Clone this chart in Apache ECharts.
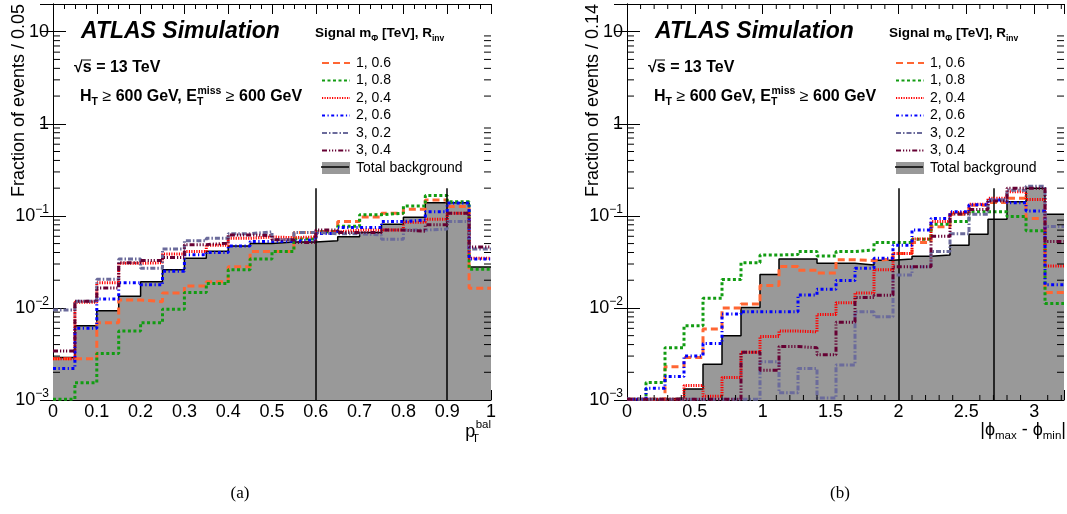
<!DOCTYPE html>
<html><head><meta charset="utf-8">
<script src="https://cdn.jsdelivr.net/npm/echarts@6/dist/echarts.min.js"></script>
<style>html,body{margin:0;padding:0;background:#fff}#c{width:1067px;height:514px}</style>
</head><body><div id="c"></div>
<script>
// ---------- data ----------
const edgesA = [0,0.05,0.1,0.15,0.2,0.25,0.3,0.35,0.4,0.45,0.5,0.55,0.6,0.65,0.7,0.75,0.8,0.85,0.9,0.95,1];
const edgesB = [0,0.14,0.28,0.42,0.56,0.70,0.84,0.98,1.12,1.26,1.40,1.54,1.68,1.82,1.96,2.10,2.24,2.38,2.52,2.66,2.80,2.94,3.08,3.22];

const names = ['1, 0.6','1, 0.8','2, 0.4','2, 0.6','3, 0.2','3, 0.4'];
const bgName = 'Total background';

// panel (a): p_T^bal
const bgA     = [0.0029,0.0064,0.0093,0.0134,0.0193,0.026,0.0347,0.0413,0.047,0.050,0.052,0.052,0.0535,0.0593,0.066,0.0813,0.0968,0.139,0.139,0.0279];
const orangeA = [0.0028,0.0028,0.0069,0.0122,0.0117,0.0145,0.0173,0.0193,0.028,0.041,0.041,0.066,0.068,0.087,0.097,0.107,0.118,0.149,0.126,0.0164];
const greenA  = [0.00102,0.00154,0.0032,0.0056,0.0069,0.0097,0.0147,0.0184,0.026,0.034,0.041,0.056,0.067,0.077,0.103,0.107,0.128,0.166,0.142,0.0263];
const redA    = [0.0028,0.0115,0.0188,0.0305,0.031,0.0385,0.041,0.048,0.057,0.059,0.058,0.059,0.067,0.070,0.070,0.070,0.085,0.092,0.107,0.0347];
const blueA   = [0.0022,0.006,0.0125,0.0188,0.0178,0.025,0.0378,0.040,0.047,0.0527,0.053,0.055,0.0644,0.0748,0.0748,0.0866,0.09,0.111,0.138,0.034];
const slateA  = [0.0095,0.0118,0.0205,0.034,0.027,0.0437,0.0536,0.057,0.064,0.067,0.055,0.066,0.064,0.064,0.062,0.0557,0.07,0.072,0.0866,0.0437];
const maroonA = [0.0034,0.0118,0.0165,0.031,0.0327,0.0353,0.0487,0.0505,0.062,0.061,0.055,0.0515,0.070,0.066,0.066,0.070,0.068,0.080,0.107,0.0459];

// panel (b): |phi_max - phi_min|
const bgB     = [0.00102,0.00102,0.00105,0.00132,0.00245,0.0050,0.0101,0.023,0.034,0.034,0.0306,0.0306,0.0293,0.033,0.034,0.0365,0.0376,0.048,0.063,0.0917,0.142,0.20,0.104];
const orangeB = [0.00102,0.00102,0.0023,0.0029,0.0059,0.0100,0.011,0.0175,0.0282,0.0256,0.024,0.0333,0.0327,0.034,0.039,0.0515,0.076,0.104,0.13,0.14,0.155,0.0935,0.0147];
const greenB  = [0.00102,0.00155,0.0037,0.0064,0.0127,0.0203,0.031,0.0376,0.038,0.041,0.0367,0.041,0.0426,0.0515,0.0515,0.0557,0.081,0.0866,0.111,0.111,0.0985,0.069,0.0112];
const redB    = [0.00102,0.00102,0.00102,0.00144,0.0011,0.00175,0.0033,0.0049,0.0056,0.0055,0.0085,0.0114,0.0145,0.026,0.039,0.056,0.0866,0.109,0.134,0.155,0.183,0.151,0.0285];
const blueB   = [0.00102,0.00134,0.0018,0.0030,0.0041,0.0086,0.0091,0.0091,0.0091,0.0138,0.016,0.0199,0.027,0.0347,0.048,0.0703,0.0935,0.111,0.132,0.149,0.139,0.113,0.0178];
const slateB  = [0.00102,0.00102,0.00102,0.00102,0.00102,0.00102,0.00102,0.0026,0.0012,0.0022,0.00105,0.0024,0.0091,0.008,0.0228,0.028,0.041,0.064,0.104,0.149,0.19,0.21,0.0767];
const maroonB = [0.00102,0.00102,0.00102,0.00102,0.00102,0.00102,0.0033,0.0021,0.0038,0.0037,0.0031,0.007,0.013,0.0137,0.028,0.028,0.06,0.105,0.117,0.145,0.20,0.20,0.0527];

const cutsA = [0.6, 0.9];
const cutsB = [2.0, 2.7];
const cutTop = 0.2;

// ticks / labels
const yTickVals = [0.001, 0.01, 0.1, 1, 10];
const yTickText = ['10{e|−3}', '10{e|−2}', '10{e|−1}', '1', '10'];
const yMinor = [0.002,0.003,0.004,0.005,0.006,0.007,0.008,0.009,
                0.02,0.03,0.04,0.05,0.06,0.07,0.08,0.09,
                0.2,0.3,0.4,0.5,0.6,0.7,0.8,0.9,
                2,3,4,5,6,7,8,9];
const xMinorB = [0.1,0.2,0.3,0.4,0.6,0.7,0.8,0.9,1.1,1.2,1.3,1.4,1.6,1.7,1.8,1.9,2.1,2.2,2.3,2.4,2.6,2.7,2.8,2.9,3.1,3.2];

// ---------- styles ----------
const FONT = 'Liberation Sans, Arial, Helvetica, sans-serif';
const styles = [
  {color:'#ff6633', dash:[7,4]},
  {color:'#129c12', dash:[3,2.5]},
  {color:'#ff0000', dash:[1.2,1.3]},
  {color:'#0000ff', dash:[3,2.5,1.2,2.5]},
  {color:'#6b6b9b', dash:[5,2,1.5,2]},
  {color:'#660033', dash:[5,2,1.2,1.8,1.2,1.8,1.2,2]}
];
const YMIN = 0.001, YMAX = 20;
const XA = [0, 1], XB = [0, 3.22];

function steps(edges, vals) {
  return edges.map((e, i) => [e, vals[Math.min(i, vals.length - 1)]]);
}
function ylab(v) {
  const l = Math.log10(v), e = Math.round(l);
  if (Math.abs(l - e) > 1e-6) return '';
  const i = yTickVals.findIndex(t => Math.abs(Math.log10(t) - e) < 1e-6);
  return i >= 0 ? yTickText[i] : '';
}
function sigSeries(i, vals, edges, ai) {
  const s = styles[i];
  return {type:'line', name:names[i], xAxisIndex:ai, yAxisIndex:ai, step:'end',
    data:steps(edges, vals), symbol:'circle', showSymbol:false, symbolSize:0,
    lineStyle:{color:s.color, width:3, type:s.dash, cap:'butt'},
    itemStyle:{color:s.color}, z:3+i, silent:true, animation:false};
}
function bgSeries(vals, edges, ai, cuts) {
  return {type:'line', name:bgName, xAxisIndex:ai, yAxisIndex:ai, step:'end',
    data:steps(edges, vals), symbol:'circle', showSymbol:false, symbolSize:0,
    lineStyle:{color:'#000', width:1.5}, itemStyle:{color:'#999999'},
    areaStyle:{color:'#999999', opacity:1, origin:'start'}, z:2, silent:true, animation:false,
    markLine:{silent:true, symbol:'none', animation:false, label:{show:false},
      lineStyle:{color:'#000', width:1.5, type:'solid'},
      data:cuts.map(c => [{coord:[c, YMIN]}, {coord:[c, cutTop]}])}};
}
function yTicks(ai, ext) {
  return {type:'custom', xAxisIndex:ai, yAxisIndex:ai, silent:true, clip:false, z:20, animation:false,
    data:yMinor.map(v => [ext[0], v]),
    renderItem(p, api) {
      const v = api.value(1);
      const a = api.coord([ext[0], v]), b = api.coord([ext[1], v]);
      const st = {stroke:'#000', lineWidth:1};
      return {type:'group', children:[
        {type:'line', shape:{x1:a[0], y1:a[1], x2:a[0]+7, y2:a[1]}, style:st},
        {type:'line', shape:{x1:b[0]-7, y1:b[1], x2:b[0], y2:b[1]}, style:st}]};
    }};
}
function xTicks(ai, vals) {
  return {type:'custom', xAxisIndex:ai, yAxisIndex:ai, silent:true, clip:false, z:20, animation:false,
    data:vals.map(v => [v, YMIN]),
    renderItem(p, api) {
      const v = api.value(0);
      const a = api.coord([v, YMIN]), b = api.coord([v, YMAX]);
      const st = {stroke:'#000', lineWidth:1};
      return {type:'group', children:[
        {type:'line', shape:{x1:a[0], y1:a[1], x2:a[0], y2:a[1]-5}, style:st},
        {type:'line', shape:{x1:b[0], y1:b[1], x2:b[0], y2:b[1]+5}, style:st}]};
    }};
}
const axLine = {show:true, lineStyle:{color:'#000', width:1}};
function xAxisDef(grid, ext, interval, pos, labels, minorSplit) {
  return {type:'value', gridIndex:grid, min:ext[0], max:ext[1], interval, position:pos,
    axisLine:axLine, splitLine:{show:false},
    axisTick:{show:true, inside:true, length:10, lineStyle:{color:'#000'}},
    minorTick:{show:!!minorSplit, splitNumber:minorSplit || 5, length:5, lineStyle:{color:'#000'}},
    axisLabel:{show:labels, color:'#000', fontFamily:FONT, fontSize:18, margin:3, lineHeight:18,
      formatter:v => (Math.abs(v/interval - Math.round(v/interval)) < 1e-6) ? String(+v.toFixed(2)) : ''}};
}
function yAxisDef(grid, pos, labels) {
  return {type:'log', logBase:10, gridIndex:grid, min:YMIN, max:YMAX, position:pos,
    axisLine:axLine, splitLine:{show:false},
    axisTick:{show:true, inside:true, length:13, lineStyle:{color:'#000'}},
    axisLabel:{show:labels, color:'#000', fontFamily:FONT, fontSize:18, margin:4, lineHeight:24,
      formatter:ylab, rich:{e:{fontSize:12, fontFamily:FONT, color:'#000', lineHeight:12, verticalAlign:'top'}}}};
}

// ---------- chart ----------
const chart = echarts.init(document.getElementById('c'), null, {renderer:'canvas'});
const OX = 574;
const legendData = names.concat([{name:bgName, icon:'rect', itemStyle:{color:'#999999', opacity:1}}]);
function legendDef(left) {
  return {show:true, orient:'vertical', left, top:56, padding:0, itemWidth:28, itemHeight:12, itemGap:3.5,
    selectedMode:false, data:legendData, itemStyle:{opacity:0},
    textStyle:{fontFamily:FONT, fontSize:14, color:'#000', lineHeight:12, padding:[0,0,0,1]}};
}
const base = {fontFamily:FONT, fill:'#000'};
function panelTexts(ox, yTitle) {
  return [
    {type:'text', x:19+ox, y:4, rotation:Math.PI/2, style:Object.assign({text:yTitle, fontSize:18, textAlign:'right', textVerticalAlign:'middle'}, base)},
    {type:'text', x:81+ox, y:32, style:Object.assign({text:'ATLAS Simulation', fontSize:23, fontWeight:'bold', fontStyle:'italic', textVerticalAlign:'middle'}, base)},
    {type:'text', x:74+ox, y:68, style:Object.assign({text:'√s = 13 TeV', fontSize:16, fontWeight:'bold', textVerticalAlign:'middle'}, base)},
    {type:'line', shape:{x1:83+ox, y1:60, x2:91+ox, y2:60}, style:{stroke:'#000', lineWidth:1}},
    {type:'text', x:80+ox, y:97, style:Object.assign({
      text:'{b|H}{sub|T}{b| }{r|≥}{b| 600 GeV, E}{sub2|T}{sup|miss}{b| }{r|≥}{b| 600 GeV}',
      textVerticalAlign:'middle',
      rich:{
        b:{fontFamily:FONT, fontSize:16, fontWeight:'bold', lineHeight:24, color:'#000'},
        r:{fontFamily:FONT, fontSize:16, lineHeight:24, color:'#000'},
        sub:{fontFamily:FONT, fontSize:10.5, fontWeight:'bold', lineHeight:10, verticalAlign:'bottom', color:'#000', padding:[0,0,1,0]},
        sub2:{fontFamily:FONT, fontSize:10.5, fontWeight:'bold', lineHeight:10, verticalAlign:'bottom', align:'left', color:'#000', width:0.5, padding:[0,0,1,0]},
        sup:{fontFamily:FONT, fontSize:10.5, fontWeight:'bold', lineHeight:10, verticalAlign:'top', color:'#000', padding:[1,0,0,0]}
      }}, base)},
    {type:'text', x:315+ox, y:33, style:Object.assign({
      text:'{b|Signal m}{sub|Φ}{b| [TeV], R}{sub|inv}', textVerticalAlign:'middle',
      rich:{
        b:{fontFamily:FONT, fontSize:13.5, fontWeight:'bold', lineHeight:20, color:'#000'},
        sub:{fontFamily:FONT, fontSize:8.5, fontWeight:'bold', lineHeight:8, verticalAlign:'bottom', color:'#000'}
      }}, base)},
    {type:'line', shape:{x1:321+ox, y1:167, x2:349+ox, y2:167}, style:{stroke:'#000', lineWidth:1.5}, z:100}
  ];
}
const graphics = [].concat(
  panelTexts(0, 'Fraction of events / 0.05'),
  panelTexts(OX, 'Fraction of events / 0.14'),
  [
    {type:'text', x:491, y:432, style:Object.assign({
      text:'{p|p}{sub|T}{sup|bal}', textAlign:'right', textVerticalAlign:'middle',
      rich:{
        p:{fontFamily:FONT, fontSize:18, lineHeight:26, color:'#000'},
        sub:{fontFamily:FONT, fontSize:11.5, lineHeight:11, verticalAlign:'bottom', align:'left', color:'#000', width:0.5},
        sup:{fontFamily:FONT, fontSize:11.5, lineHeight:11, verticalAlign:'top', color:'#000'}
      }}, base)},
    {type:'text', x:1066, y:430, style:Object.assign({
      text:'{p||ϕ}{sub|max}{p| - ϕ}{sub|min}{p||}', textAlign:'right', textVerticalAlign:'middle',
      rich:{
        p:{fontFamily:FONT, fontSize:18, lineHeight:24, color:'#000'},
        sub:{fontFamily:FONT, fontSize:11.5, lineHeight:11, verticalAlign:'bottom', color:'#000'}
      }}, base)},
    {type:'text', x:240, y:494, style:{text:'(a)', fontFamily:'Liberation Serif, Times New Roman, serif', fontSize:17, fill:'#000', textAlign:'center', textVerticalAlign:'middle'}},
    {type:'text', x:840, y:494, style:{text:'(b)', fontFamily:'Liberation Serif, Times New Roman, serif', fontSize:17, fill:'#000', textAlign:'center', textVerticalAlign:'middle'}}
  ]
);

const seriesA = [bgSeries(bgA, edgesA, 0, cutsA)].concat(
  [orangeA, greenA, redA, blueA, slateA, maroonA].map((v, i) => sigSeries(i, v, edgesA, 0)));
const seriesB = [bgSeries(bgB, edgesB, 2, cutsB)].concat(
  [orangeB, greenB, redB, blueB, slateB, maroonB].map((v, i) => sigSeries(i, v, edgesB, 2)));

const option = {
  animation:false,
  backgroundColor:'#fff',
  textStyle:{fontFamily:FONT},
  grid:[
    {left:53, top:4, width:438, height:396, containLabel:false},
    {left:627, top:4, width:437, height:396, containLabel:false}
  ],
  xAxis:[
    xAxisDef(0, XA, 0.1, 'bottom', true, 4),
    xAxisDef(0, XA, 0.1, 'top', false, 4),
    xAxisDef(1, XB, 0.5, 'bottom', true, 0),
    xAxisDef(1, XB, 0.5, 'top', false, 0)
  ],
  yAxis:[
    yAxisDef(0, 'left', true),
    yAxisDef(0, 'right', false),
    yAxisDef(1, 'left', true),
    yAxisDef(1, 'right', false)
  ],
  legend:[legendDef(321), legendDef(321 + OX)],
  graphic:graphics,
  series:seriesA.concat(seriesB, [yTicks(0, XA), yTicks(2, XB), xTicks(2, xMinorB)])
};
chart.setOption(option);
</script>
</body></html>
